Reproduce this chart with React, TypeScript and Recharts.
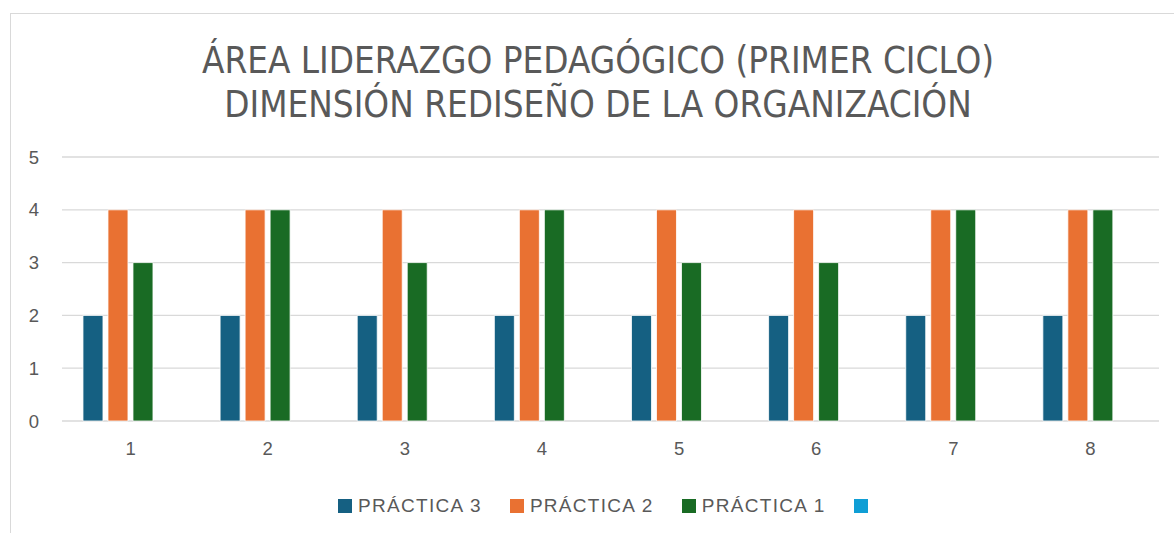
import React from "react";
import { BarChart, Bar, XAxis, YAxis, CartesianGrid } from "recharts";

const categories = ["1", "2", "3", "4", "5", "6", "7", "8"];
const practica3 = [2, 2, 2, 2, 2, 2, 2, 2];
const practica2 = [4, 4, 4, 4, 4, 4, 4, 4];
const practica1 = [3, 4, 3, 4, 3, 3, 4, 4];
const serie4: (number | null)[] = [null, null, null, null, null, null, null, null];
const yTicks = [0, 1, 2, 3, 4, 5];
const titleLines = ["ÁREA LIDERAZGO PEDAGÓGICO (PRIMER CICLO)", "DIMENSIÓN REDISEÑO DE LA ORGANIZACIÓN"];

const series = [
  { key: "p3", name: "PRÁCTICA 3", color: "#156082", values: practica3 },
  { key: "p2", name: "PRÁCTICA 2", color: "#E97132", values: practica2 },
  { key: "p1", name: "PRÁCTICA 1", color: "#196B24", values: practica1 },
  { key: "s4", name: "", color: "#0F9ED5", values: serie4 },
];

const data = categories.map((c, i) => {
  const row: Record<string, string | number | null> = { cat: c };
  series.forEach((s) => (row[s.key] = s.values[i]));
  return row;
});

const FONT = "'Liberation Sans', Arial, sans-serif";
const TEXT = "#595959";

export default function App() {
  return (
    <div style={{ position: "absolute", left: 0, top: 0, width: 1174, height: 533, background: "#fff", overflow: "hidden" }}>
      <div style={{ position: "absolute", left: 10, top: 13, width: 1200, height: 600, border: "1px solid #d9d9d9", boxSizing: "border-box" }} />
      <div style={{ position: "absolute", left: 0, top: 39, width: 1196, textAlign: "center", fontFamily: "'DejaVu Sans Condensed', sans-serif", fontSize: 36.5, lineHeight: "44px", color: TEXT }}>
        {titleLines.map((l) => (
          <div key={l} style={{ whiteSpace: "nowrap" }}>{l}</div>
        ))}
      </div>
      <div style={{ position: "absolute", left: 0, top: 0 }}>
        <BarChart width={1174} height={533} data={data} margin={{ top: 157, right: 15, bottom: 82, left: 22 }} barCategoryGap="15.3%" barGap={5}>
          <CartesianGrid horizontal vertical={false} stroke="#d9d9d9" strokeWidth={1.3} />
          <XAxis dataKey="cat" axisLine={false} tickLine={false} tickSize={0} tickMargin={21} height={30} tick={{ fill: TEXT, fontSize: 18.5, fontFamily: FONT }} />
          <YAxis domain={[0, 5]} ticks={yTicks} axisLine={false} tickLine={false} tickSize={0} tickMargin={23} width={40} tick={{ fill: TEXT, fontSize: 18.5, fontFamily: FONT }} />
          {series.map((s) => (
            <Bar key={s.key} dataKey={s.key} name={s.name} fill={s.color} stroke="#ffffff" strokeWidth={0.8} isAnimationActive={false} />
          ))}
        </BarChart>
      </div>
      <div style={{ position: "absolute", left: 338, top: 495, display: "flex", alignItems: "center", fontFamily: FONT, fontSize: 19, color: TEXT, letterSpacing: 1.3 }}>
        {series.map((s) => (
          <div key={s.key} style={{ display: "flex", alignItems: "center", marginRight: 28 }}>
            <div style={{ width: 14, height: 14, background: s.color, marginRight: 6 }} />
            <span style={{ whiteSpace: "nowrap" }}>{s.name}</span>
          </div>
        ))}
      </div>
    </div>
  );
}
